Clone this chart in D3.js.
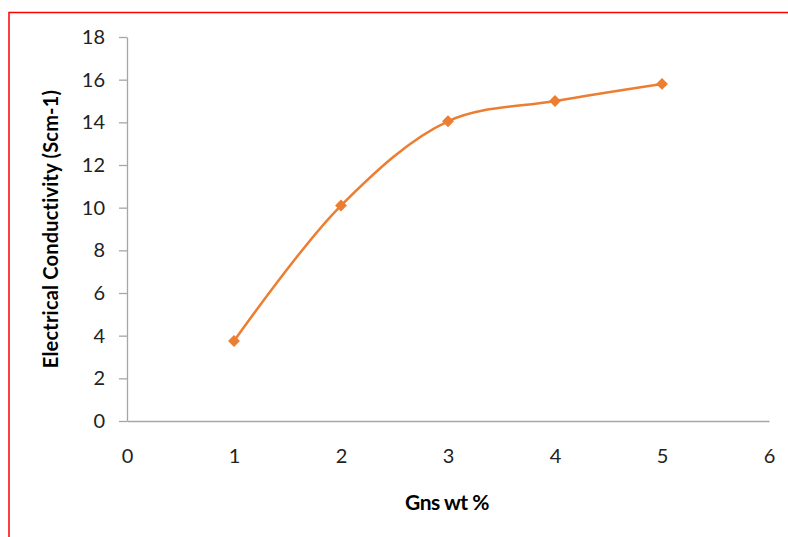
<!DOCTYPE html>
<html>
<head>
<meta charset="utf-8">
<script src="https://cdn.jsdelivr.net/npm/d3@7"></script>
<style>
  body { margin: 0; background: #fff; }
  svg { display: block; }
</style>
</head>
<body>
<div id="chart"></div>
<script>
// data
const gnsWt = [1, 2, 3, 4, 5];
const conductivity = [3.75, 10.1, 14.05, 15.0, 15.8];
const xTicks = [0, 1, 2, 3, 4, 5, 6];
const yTicks = [0, 2, 4, 6, 8, 10, 12, 14, 16, 18];

const width = 788, height = 537;
const margin = { top: 37, right: 19, bottom: 116, left: 127 };

const svg = d3.select("#chart").append("svg")
  .attr("width", width)
  .attr("height", height);

// red frame
svg.append("rect")
  .attr("x", 9).attr("y", 12.5)
  .attr("width", width + 10).attr("height", height + 10)
  .attr("fill", "none")
  .attr("stroke", "#ff0000")
  .attr("stroke-width", 1.5);

const xScale = d3.scaleLinear().domain([0, 6]).range([margin.left, width - margin.right]);
const yScale = d3.scaleLinear().domain([0, 18]).range([height - margin.bottom, margin.top]);

const font = "Lato, 'Open Sans', sans-serif";

// y axis
const yAxis = svg.append("g")
  .attr("transform", `translate(${margin.left},0)`)
  .call(d3.axisLeft(yScale).tickValues(yTicks).tickFormat(d3.format("d"))
    .tickSize(8).tickPadding(14).tickSizeOuter(0));
yAxis.selectAll("line").attr("stroke", "#a6a6a6").attr("stroke-width", 1.3);
yAxis.select(".domain").attr("stroke", "#a6a6a6").attr("stroke-width", 1.3);
yAxis.selectAll("text").attr("font-family", font).attr("font-size", 20).attr("fill", "#222");

// x axis (no tick marks)
const xAxis = svg.append("g")
  .attr("transform", `translate(0,${yScale(0)})`)
  .call(d3.axisBottom(xScale).tickValues(xTicks).tickFormat(d3.format("d"))
    .tickSize(0).tickPadding(28).tickSizeOuter(0));
xAxis.select(".domain").attr("stroke", "#a6a6a6").attr("stroke-width", 1.6);
xAxis.selectAll("text").attr("font-family", font).attr("font-size", 20).attr("fill", "#222");

// axis titles
svg.append("text")
  .attr("x", 447).attr("y", 510)
  .attr("text-anchor", "middle")
  .attr("font-family", font).attr("font-size", 21).attr("font-weight", "bold")
  .attr("letter-spacing", -0.5)
  .text("Gns wt %");

svg.append("text")
  .attr("transform", "translate(58,229) rotate(-90)")
  .attr("text-anchor", "middle")
  .attr("font-family", font).attr("font-size", 20).attr("font-weight", "bold")
  .attr("letter-spacing", 0.2)
  .text("Electrical Conductivity (Scm-1)");

// smoothed line
const points = gnsWt.map((x, i) => ({ x: x, y: conductivity[i] }));
const line = d3.line()
  .x(d => xScale(d.x))
  .y(d => yScale(d.y))
  .curve(d3.curveCatmullRom.alpha(0.5));

svg.append("path")
  .datum(points)
  .attr("d", line)
  .attr("fill", "none")
  .attr("stroke", "#ed7d31")
  .attr("stroke-width", 2.5);

// diamond markers
svg.selectAll(".marker")
  .data(points)
  .enter().append("path")
  .attr("class", "marker")
  .attr("transform", d => `translate(${xScale(d.x)},${yScale(d.y)})`)
  .attr("d", d3.symbol(d3.symbolDiamond2, 90))
  .attr("fill", "#ed7d31");
</script>
</body>
</html>
